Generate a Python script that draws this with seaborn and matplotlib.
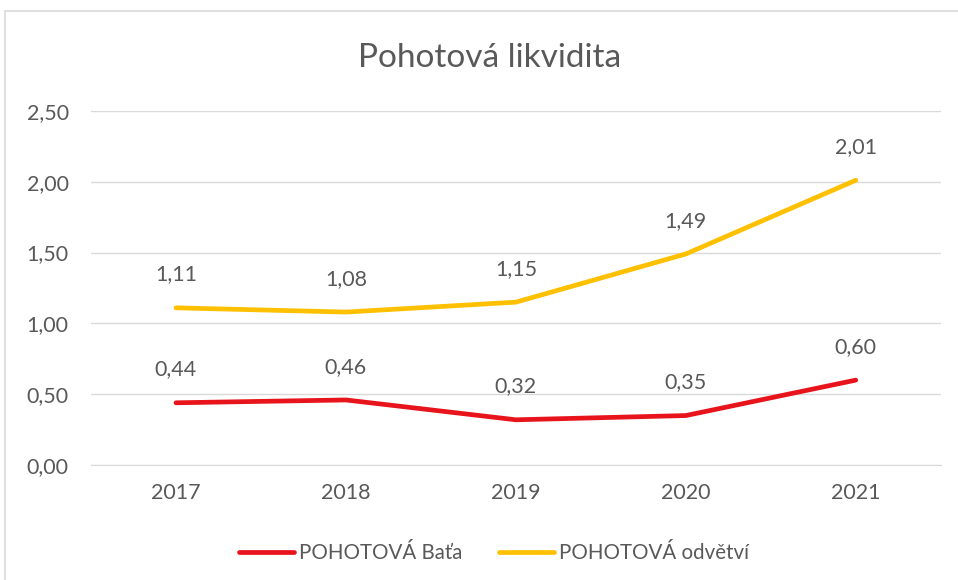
import seaborn as sns
import matplotlib.pyplot as plt
import matplotlib.patches as mpatches
import pandas as pd

years = ["2017", "2018", "2019", "2020", "2021"]
bata = [0.44, 0.46, 0.32, 0.35, 0.60]
odvetvi = [1.11, 1.08, 1.15, 1.49, 2.01]
series_names = ["POHOTOVÁ Baťa", "POHOTOVÁ odvětví"]
yticks = [0.0, 0.5, 1.0, 1.5, 2.0, 2.5]

sns.set_style("white")
plt.rcParams['font.family'] = ['Lato', 'DejaVu Sans']

df = pd.DataFrame({
    "rok": years * 2,
    "hodnota": bata + odvetvi,
    "serie": [series_names[0]] * len(years) + [series_names[1]] * len(years),
})

colors = {series_names[0]: "#E8141C", series_names[1]: "#FFC000"}
text_col = "#595959"

fig = plt.figure(figsize=(9.58, 5.8), dpi=100)
ax = fig.add_axes([0.095, 0.198, 0.887, 0.611])

sns.lineplot(data=df, x="rok", y="hodnota", hue="serie", palette=colors,
             linewidth=3.4, ax=ax, sort=False, legend=True)
for line in ax.get_lines():
    line.set_solid_capstyle("round")
    line.set_solid_joinstyle("round")

ax.set_xlim(-0.5, len(years) - 0.5)
ax.set_ylim(0, 2.5)
ax.set_yticks(yticks)
ax.set_yticklabels([f"{v:.2f}".replace(".", ",") for v in yticks])
ax.yaxis.grid(True, color="#D9D9D9", linewidth=1)
ax.set_axisbelow(True)
for s in ["top", "right", "left"]:
    ax.spines[s].set_visible(False)
ax.spines["bottom"].set_color("#D9D9D9")
ax.tick_params(axis="both", length=0, labelsize=15.5, labelcolor=text_col)
ax.tick_params(axis="y", pad=16)
ax.tick_params(axis="x", pad=13)
ax.set_xlabel("")
ax.set_ylabel("")

for vals in (bata, odvetvi):
    for i, v in enumerate(vals):
        ax.annotate(f"{v:.2f}".replace(".", ","), (i, v), xytext=(0, 24),
                    textcoords="offset points", ha="center", va="center",
                    fontsize=15.5, color=text_col)

fig.text(0.511, 1 - 58 / 580, "Pohotová likvidita", ha="center", va="center",
         fontsize=24, color=text_col)

handles, labels = ax.get_legend_handles_labels()
ax.legend(handles, labels, loc="center", bbox_to_anchor=(0.474, -0.248),
          ncol=2, frameon=False, fontsize=14.8, labelcolor=text_col,
          handlelength=2.7, handletextpad=0.2, columnspacing=1.8)

fig.patches.append(mpatches.Rectangle((5 / 958, -0.05), 1.1, 1.05 - 11 / 580,
                                      transform=fig.transFigure, fill=False,
                                      edgecolor="#D9D9D9", linewidth=1.2))

fig.savefig("out.png", dpi=100)
